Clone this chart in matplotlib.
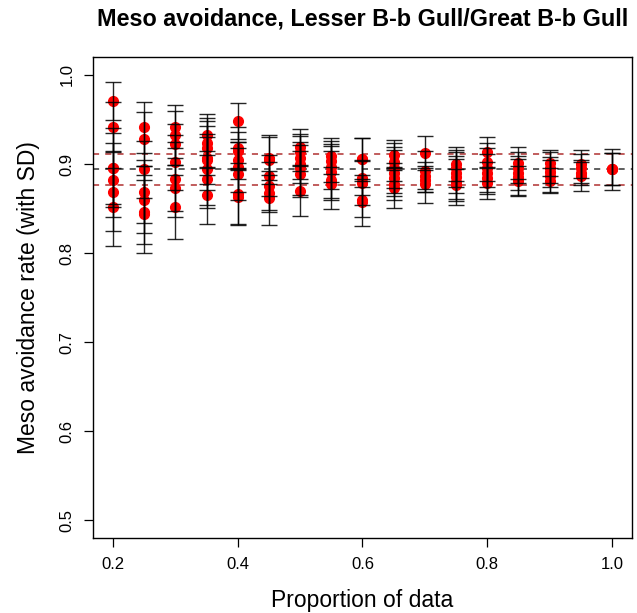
import matplotlib
matplotlib.use('Agg')
import matplotlib.pyplot as plt

plt.rcParams['font.family'] = ['Liberation Sans', 'DejaVu Sans']

# proportion of data used for each set of replicates
proportions = [0.2, 0.25, 0.3, 0.35, 0.4, 0.45, 0.5, 0.55, 0.6,
               0.65, 0.7, 0.75, 0.8, 0.85, 0.9, 0.95, 1.0]

# mean avoidance rate of each replicate (one list per proportion)
rate_means = [
    [0.971, 0.942, 0.896, 0.895, 0.882, 0.869, 0.852],
    [0.941, 0.928, 0.894, 0.869, 0.860, 0.846, 0.844],
    [0.942, 0.933, 0.922, 0.902, 0.883, 0.873, 0.852],
    [0.933, 0.924, 0.918, 0.907, 0.904, 0.894, 0.883, 0.865],
    [0.948, 0.918, 0.915, 0.904, 0.897, 0.889, 0.866, 0.863],
    [0.907, 0.904, 0.887, 0.875, 0.867, 0.862],
    [0.919, 0.913, 0.907, 0.900, 0.895, 0.889, 0.870],
    [0.909, 0.903, 0.897, 0.891, 0.882, 0.878],
    [0.906, 0.905, 0.884, 0.879, 0.859, 0.857],
    [0.910, 0.902, 0.896, 0.890, 0.884, 0.878, 0.873],
    [0.912, 0.892, 0.887, 0.882, 0.877],
    [0.900, 0.895, 0.890, 0.885, 0.880, 0.876],
    [0.913, 0.902, 0.896, 0.890, 0.884, 0.879],
    [0.901, 0.896, 0.890, 0.885, 0.881],
    [0.901, 0.896, 0.891, 0.886, 0.881],
    [0.900, 0.895, 0.890, 0.886],
    [0.894, 0.894, 0.894],
]

# standard deviation of each replicate
rate_sds = [
    [0.0215, 0.027, 0.0445, 0.040, 0.041, 0.044, 0.044],
    [0.0285, 0.030, 0.032, 0.035, 0.038, 0.036, 0.044],
    [0.024, 0.026, 0.023, 0.031, 0.042, 0.026, 0.036],
    [0.023, 0.028, 0.030, 0.036, 0.026, 0.040, 0.032, 0.032],
    [0.020, 0.023, 0.021, 0.021, 0.028, 0.029, 0.035, 0.030],
    [0.025, 0.026, 0.023, 0.027, 0.021, 0.030],
    [0.020, 0.021, 0.024, 0.021, 0.030, 0.026, 0.028],
    [0.020, 0.023, 0.025, 0.029, 0.033, 0.019],
    [0.023, 0.024, 0.019, 0.025, 0.029, 0.017],
    [0.017, 0.021, 0.023, 0.026, 0.017, 0.019, 0.023],
    [0.019, 0.023, 0.015, 0.014, 0.021],
    [0.019, 0.021, 0.023, 0.024, 0.026, 0.018],
    [0.017, 0.021, 0.022, 0.021, 0.018, 0.018],
    [0.018, 0.017, 0.019, 0.020, 0.017],
    [0.015, 0.017, 0.017, 0.018, 0.014],
    [0.016, 0.016, 0.014, 0.016],
    [0.018, 0.018, 0.023],
]

# full-data estimate and its +/- SD band
full_mean = 0.894
full_upper = 0.9115
full_lower = 0.876

fig = plt.figure(figsize=(6.37, 6.13), dpi=100)
ax = fig.add_axes([0.146, 0.122, 0.846, 0.785])

ax.axhline(full_mean, color='#333333', ls=(0, (4, 4)), lw=1.1, zorder=1)
ax.axhline(full_upper, color='#b03030', ls=(0, (4, 4)), lw=1.1, zorder=1)
ax.axhline(full_lower, color='#b03030', ls=(0, (4, 4)), lw=1.1, zorder=1)

for p, means, sds in zip(proportions, rate_means, rate_sds):
    xs = [p] * len(means)
    ax.plot(xs, means, 'o', color='red', markersize=7, zorder=2)
    ax.errorbar(xs, means, yerr=sds, fmt='none', ecolor='black',
                elinewidth=1, capsize=5.5, capthick=1, alpha=0.85, zorder=3)

ax.set_xlim(0.168, 1.032)
ax.set_ylim(0.48, 1.02)
ax.set_xticks([0.2, 0.4, 0.6, 0.8, 1.0])
ax.set_xticklabels(['0.2', '0.4', '0.6', '0.8', '1.0'])
ax.set_yticks([0.5, 0.6, 0.7, 0.8, 0.9, 1.0])
ax.set_yticklabels(['0.5', '0.6', '0.7', '0.8', '0.9', '1.0'], rotation=90, va='center')
ax.tick_params(axis='both', direction='out', length=6.5, width=0.9,
               labelsize=12, pad=7)
for s in ax.spines.values():
    s.set_linewidth(1)

ax.set_xlabel('Proportion of data', fontsize=16.5, labelpad=12)
ax.set_ylabel('Meso avoidance rate (with SD)', fontsize=16.5, labelpad=14)
ax.set_title('Meso avoidance, Lesser B-b Gull/Great B-b Gull',
             fontsize=16.8, fontweight='bold', pad=23)

fig.savefig('out.png', dpi=100)
